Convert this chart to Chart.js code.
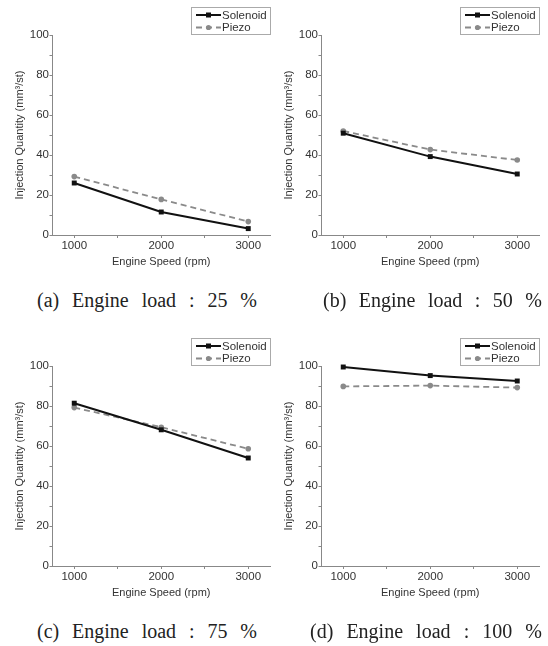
<!DOCTYPE html>
<html>
<head>
<meta charset="utf-8">
<script src="https://cdn.jsdelivr.net/npm/chart.js@4.4.0/dist/chart.umd.min.js"></script>
<style>
  body { margin: 0; background: #fff; }
  #wrap { position: relative; width: 548px; height: 646px; overflow: hidden; }
  canvas { position: absolute; }
  .cap {
    position: absolute;
    font-family: "Liberation Serif", "Times New Roman", serif;
    font-size: 20px;
    line-height: 20px;
    color: #222;
    white-space: nowrap;
    text-align: justify;
    text-align-last: justify;
  }
</style>
</head>
<body>
<div id="wrap">
  <canvas id="c25" width="274" height="275" style="left:0px;top:0px"></canvas>
  <canvas id="c50" width="274" height="275" style="left:269px;top:0px"></canvas>
  <canvas id="c75" width="274" height="275" style="left:0px;top:331px"></canvas>
  <canvas id="c100" width="274" height="275" style="left:269px;top:331px"></canvas>
  <div class="cap" id="cap25" style="left:37px;top:290px;width:220px"></div>
  <div class="cap" id="cap50" style="left:323px;top:290px;width:219px"></div>
  <div class="cap" id="cap75" style="left:37px;top:621px;width:220px"></div>
  <div class="cap" id="cap100" style="left:310px;top:621px;width:232px"></div>
</div>
<script>
// data
const speeds = [1000, 2000, 3000];
const xTickValues = [1000, 1500, 2000, 2500, 3000];
const seriesNames = ["Solenoid", "Piezo"];

const solenoid25 = [26.0, 11.5, 3.2];
const piezo25 = [29.2, 17.8, 6.7];
const solenoid50 = [50.9, 39.2, 30.5];
const piezo50 = [52.0, 42.7, 37.5];
const solenoid75 = [81.4, 68.1, 54.0];
const piezo75 = [79.2, 69.4, 58.6];
const solenoid100 = [99.5, 95.2, 92.5];
const piezo100 = [89.8, 90.2, 89.2];

const captions = {
    cap25: "(a) Engine load : 25 %",
    cap50: "(b) Engine load : 50 %",
    cap75: "(c) Engine load : 75 %",
    cap100: "(d) Engine load : 100 %"
};

const FONT = "'Liberation Sans', Arial, sans-serif";
const TEXT = "#333";
const AXIS = "#888";

// legend box in the top right corner, above the plot
const boxLegend = {
    id: "boxLegend",
    afterDraw(chart) {
        const ctx = chart.ctx;
        const area = chart.chartArea;
        const w = 80, h = 28;
        const x0 = area.right + 1 - w;
        const y0 = area.top - h;
        ctx.save();
        ctx.fillStyle = "#fff";
        ctx.fillRect(x0, y0, w, h);
        ctx.strokeStyle = "#aaa";
        ctx.lineWidth = 1;
        ctx.strokeRect(x0 + 0.5, y0 + 0.5, w - 1, h - 1);
        chart.data.datasets.forEach((ds, i) => {
            const y = y0 + 8 + i * 12.5;
            ctx.strokeStyle = ds.borderColor;
            ctx.lineWidth = ds.borderWidth;
            ctx.setLineDash(ds.borderDash || []);
            ctx.beginPath();
            ctx.moveTo(x0 + 5, y);
            ctx.lineTo(x0 + 30, y);
            ctx.stroke();
            ctx.setLineDash([]);
            ctx.fillStyle = ds.pointBackgroundColor;
            if (ds.pointStyle === "rect") {
                ctx.fillRect(x0 + 15, y - 2.5, 5, 5);
            } else {
                ctx.beginPath();
                ctx.arc(x0 + 17.5, y, 2.6, 0, Math.PI * 2);
                ctx.fill();
            }
            ctx.fillStyle = TEXT;
            ctx.font = "11.5px " + FONT;
            ctx.textBaseline = "middle";
            ctx.fillText(ds.label, x0 + 31, y + 0.5);
        });
        ctx.restore();
    }
};

function makeChart(id, solenoid, piezo) {
    return new Chart(document.getElementById(id), {
        type: "line",
        data: {
            datasets: [
                {
                    label: seriesNames[0],
                    data: speeds.map((s, i) => ({ x: s, y: solenoid[i] })),
                    borderColor: "#111",
                    backgroundColor: "#111",
                    pointBackgroundColor: "#111",
                    pointBorderColor: "#111",
                    borderWidth: 2,
                    pointStyle: "rect",
                    pointRadius: 3.5,
                    pointBorderWidth: 0
                },
                {
                    label: seriesNames[1],
                    data: speeds.map((s, i) => ({ x: s, y: piezo[i] })),
                    borderColor: "#8a8a8a",
                    backgroundColor: "#8a8a8a",
                    pointBackgroundColor: "#8a8a8a",
                    pointBorderColor: "#8a8a8a",
                    borderWidth: 1.8,
                    borderDash: [6, 4],
                    pointStyle: "circle",
                    pointRadius: 2.8,
                    pointBorderWidth: 0
                }
            ]
        },
        options: {
            responsive: false,
            animation: false,
            clip: false,
            layout: { padding: { top: 35, right: 1.5, left: 0, bottom: 0 } },
            plugins: {
                legend: { display: false },
                tooltip: { enabled: false }
            },
            scales: {
                x: {
                    type: "linear",
                    min: 750,
                    max: 3250,
                    afterBuildTicks: scale => {
                        scale.ticks = xTickValues.map(v => ({ value: v }));
                    },
                    afterFit: scale => { scale.height = 40; },
                    grid: { drawOnChartArea: false, tickLength: 3, color: AXIS },
                    border: { color: AXIS, width: 1 },
                    ticks: {
                        autoSkip: false,
                        maxRotation: 0,
                        padding: 1,
                        color: TEXT,
                        font: { family: FONT, size: 11.5 },
                        callback: v => (v % 1000 === 0 ? v : "")
                    },
                    title: {
                        display: true,
                        text: "Engine Speed (rpm)",
                        color: TEXT,
                        font: { family: FONT, size: 11 },
                        padding: { top: 0, bottom: 6.4 }
                    }
                },
                y: {
                    min: 0,
                    max: 100,
                    afterFit: scale => { scale.width = 52.5; },
                    grid: { drawOnChartArea: false, tickLength: 3, color: AXIS },
                    border: { color: AXIS, width: 1 },
                    ticks: {
                        stepSize: 10,
                        autoSkip: false,
                        padding: 0.5,
                        color: TEXT,
                        font: { family: FONT, size: 11.5 },
                        callback: v => (v % 20 === 0 ? v : "")
                    },
                    title: {
                        display: true,
                        text: "Injection Quantity (mm³/st)",
                        color: TEXT,
                        font: { family: FONT, size: 11 },
                        padding: { top: 13.4, bottom: 0 }
                    }
                }
            }
        },
        plugins: [boxLegend]
    });
}

makeChart("c25", solenoid25, piezo25);
makeChart("c50", solenoid50, piezo50);
makeChart("c75", solenoid75, piezo75);
makeChart("c100", solenoid100, piezo100);

Object.keys(captions).forEach(k => {
    document.getElementById(k).textContent = captions[k];
});
</script>
</body>
</html>
